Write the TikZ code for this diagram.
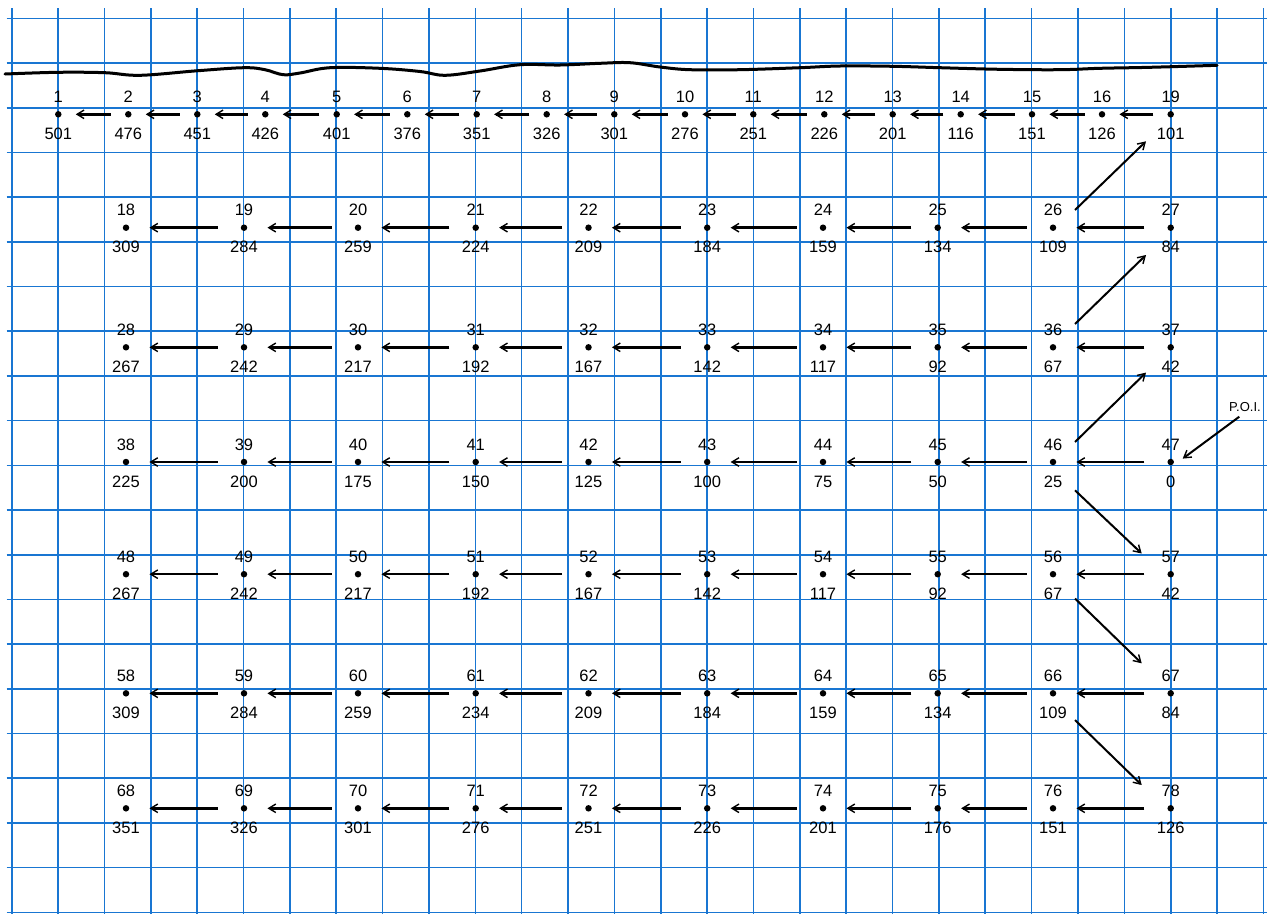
\documentclass[tikz,border=0pt]{standalone}
\usepackage{fontspec}
\setmainfont{Liberation Sans}
\usetikzlibrary{arrows.meta,calc}
\definecolor{gridblue}{RGB}{25,118,210}
\newcommand\mkrow[3]{%
  \foreach \c/\t/\b in {#3} {
    \pgfmathsetmacro\xx{{126,244,358,475.7,588.5,707.2,823,937.7,1053,1170.7}[\c-1]}
    \node[dotnode] (r#1c\c) at (\xx,#2) {};
    \node[lbl] (r#1c\c-t) at (\xx,#2-17.5) {\t};
    \node[lbl] (r#1c\c-b) at (\xx,#2+19.5) {\b};
  }
  \foreach \c [evaluate=\c as \d using int(\c+1)] in {1,...,9}
    \draw[harrow,shorten <=23pt,shorten >=20pt] (r#1c\d) -- (r#1c\c);
}
\begin{document}
\begin{tikzpicture}[x=1pt,y=-1pt,
  gridline/.style={gridblue,line width=1.6pt},
  dotnode/.style={circle,fill=black,inner sep=0pt,minimum size=6.5pt},
  lbl/.style={font=\fontsize{16.5}{16.5}\selectfont,inner sep=0pt},
  harrow/.style={line width=2.5pt,-{Straight Barb[length=7pt,width=8.5pt,line width=1.4pt]}},
  darrow/.style={line width=2pt,-{Straight Barb[length=7pt,width=8.5pt,line width=1.4pt]}}]
\useasboundingbox (0,0) rectangle (1267,914);
\fill[white] (0,0) rectangle (1267,914);
% grid
\foreach \k in {0,...,27}
  \draw[gridline] ({11.7+\k*46.36},8) -- ({11.7+\k*46.36},914);
\foreach \k in {0,...,20}
  \draw[gridline] (6.7,{18.3+\k*44.7}) -- (1267,{18.3+\k*44.7});
% wavy line
\draw[line width=3pt,line cap=round] plot[smooth,tension=0.6] coordinates {
 (5,74) (58,72.3) (105,72.7) (140,75.3) (198,70.7) (244,67.7) (265,69.7) (283,74.7)
 (300,73) (330,67.7) (380,68.3) (420,71.5) (445,75.3) (480,71) (520,64.7) (560,65)
 (600,63.3) (630,62.7) (660,67) (690,69.7) (740,69.7) (800,67.7) (840,66) (893,66.3)
 (940,67.7) (1000,69.3) (1060,69.7) (1100,68.3) (1150,67.3) (1217,65.3)};
% top row
\foreach \i/\x/\t/\b in {1/58.3/1/501, 2/128.3/2/476, 3/197.3/3/451, 4/265.3/4/426,
  5/336.7/5/401, 6/407.3/6/376, 7/476.7/7/351, 8/546.7/8/326, 9/614.3/9/301,
  10/685/10/276, 11/753.3/11/251, 12/824.3/12/226, 13/892.7/13/201, 14/960.7/14/116,
  15/1032/15/151, 16/1102/16/126, 17/1170.7/19/101} {
  \node[dotnode] (t\i) at (\x,114.3) {};
  \node[lbl] (t\i-t) at (\x,97) {\t};
  \node[lbl] (t\i-b) at (\x,134) {\b};
}
\foreach \i [evaluate=\i as \j using int(\i+1)] in {1,...,16}
  \draw[harrow,shorten <=14pt,shorten >=14pt] (t\j) -- (t\i);
% grid rows
\mkrow{2}{227.7}{1/18/309,2/19/284,3/20/259,4/21/224,5/22/209,6/23/184,7/24/159,8/25/134,9/26/109,10/27/84}
\mkrow{3}{347.3}{1/28/267,2/29/242,3/30/217,4/31/192,5/32/167,6/33/142,7/34/117,8/35/92,9/36/67,10/37/42}
\mkrow{4}{462}{1/38/225,2/39/200,3/40/175,4/41/150,5/42/125,6/43/100,7/44/75,8/45/50,9/46/25,10/47/0}
\mkrow{5}{574.2}{1/48/267,2/49/242,3/50/217,4/51/192,5/52/167,6/53/142,7/54/117,8/55/92,9/56/67,10/57/42}
\mkrow{6}{693.3}{1/58/309,2/59/284,3/60/259,4/61/234,5/62/209,6/63/184,7/64/159,8/65/134,9/66/109,10/67/84}
\mkrow{7}{808.3}{1/68/351,2/69/326,3/70/301,4/71/276,5/72/251,6/73/226,7/74/201,8/75/176,9/76/151,10/78/126}
% diagonal arrows
\draw[darrow] ($(r2c9)+(22,-17.7)$) -- ($(t17)+(-24.7,27)$);
\draw[darrow] ($(r3c9)+(22,-23.3)$) -- ($(r2c10)+(-24.7,27.3)$);
\draw[darrow] ($(r4c9)+(22,-20)$) -- ($(r3c10)+(-24.7,25.3)$);
\draw[darrow] ($(r4c9)+(22,28.3)$) -- ($(r5c10)+(-29,-20.7)$);
\draw[darrow] ($(r5c9)+(22,24.3)$) -- ($(r6c10)+(-29,-30)$);
\draw[darrow] ($(r6c9)+(22,26.7)$) -- ($(r7c10)+(-29,-23.3)$);
% P.O.I.
\node[font=\fontsize{13}{13}\selectfont,inner sep=0pt] (poi) at (1245,406.7) {P.O.I.};
\draw[darrow] ($(poi)+(-5.7,10)$) -- ($(r4c10)+(12,-3.4)$);
\end{tikzpicture}
\end{document}
